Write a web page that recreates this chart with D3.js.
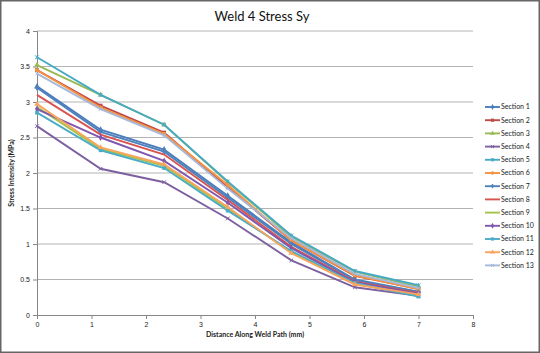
<!DOCTYPE html>
<html>
<head>
<meta charset="utf-8">
<script src="https://cdn.jsdelivr.net/npm/d3@7"></script>
<style>
  body { margin: 0; background: #fff; }
  svg { display: block; }
</style>
</head>
<body>
<script>
// distance along weld path (mm)
const distances = [0, 1.167, 2.333, 3.5, 4.667, 5.833, 7]

const sectionNames = ["Section 1", "Section 2", "Section 3", "Section 4", "Section 5", "Section 6", "Section 7",
    "Section 8", "Section 9", "Section 10", "Section 11", "Section 12", "Section 13"]

// stress intensity per section
const section1 = [3.22, 2.61, 2.33, 1.68, 1.02, 0.50, 0.33]
const section2 = [3.45, 2.95, 2.57, 1.80, 1.05, 0.55, 0.37]
const section3 = [3.52, 3.10, 2.68, 1.87, 1.10, 0.61, 0.40]
const section4 = [2.66, 2.06, 1.87, 1.36, 0.77, 0.39, 0.27]
const section5 = [3.63, 3.10, 2.68, 1.88, 1.12, 0.62, 0.42]
const section6 = [3.45, 2.92, 2.55, 1.83, 1.05, 0.56, 0.36]
const section7 = [3.20, 2.58, 2.30, 1.65, 1.00, 0.49, 0.32]
const section8 = [3.10, 2.54, 2.26, 1.62, 0.96, 0.47, 0.31]
const section9 = [2.93, 2.34, 2.10, 1.50, 0.88, 0.44, 0.28]
const section10 = [2.90, 2.50, 2.17, 1.58, 0.94, 0.46, 0.30]
const section11 = [2.85, 2.32, 2.07, 1.47, 0.90, 0.45, 0.26]
const section12 = [2.97, 2.36, 2.12, 1.52, 0.87, 0.43, 0.29]
const section13 = [3.40, 2.90, 2.53, 1.78, 1.08, 0.58, 0.38]

const allSections = [section1, section2, section3, section4, section5, section6, section7,
    section8, section9, section10, section11, section12, section13]

const xTicks = [0, 1, 2, 3, 4, 5, 6, 7, 8]
const yTicks = [0, 0.5, 1, 1.5, 2, 2.5, 3, 3.5, 4]

const colors = ["#4A7EBB", "#BE4B48", "#98B954", "#7D60A0", "#46AAC5", "#F69240", "#4F81BD",
    "#D9534F", "#A5C249", "#7E57B0", "#4BACC6", "#F9A45C", "#A5B9DA"]
const markers = ["diamond", "square", "triangle", "x", "star", "circle", "plus",
    "none", "none", "diamond", "square", "triangle", "x"]

const width = 540
const height = 353
const margin = ({top: 31, right: 67, bottom: 38, left: 37})

const svg = d3.select("body").append("svg")
    .attr("width", width)
    .attr("height", height)
    .attr("font-family", "Lato, 'Open Sans', sans-serif")

svg.append("rect")
    .attr("x", 0.75).attr("y", 0.75)
    .attr("width", width - 1.5).attr("height", height - 1.5)
    .attr("fill", "#fff")
    .attr("stroke", "#666")
    .attr("stroke-width", 1.5)

const x = d3.scaleLinear()
    .domain([0, 8])
    .range([margin.left, width - margin.right])

const y = d3.scaleLinear()
    .domain([0, 4])
    .range([height - margin.bottom, margin.top])

// gridlines
svg.append("g")
    .selectAll("line")
    .data(yTicks.filter(d => d > 0))
    .join("line")
    .attr("x1", x(0)).attr("x2", x(8))
    .attr("y1", d => y(d)).attr("y2", d => y(d))
    .attr("stroke", "#b3b3b3")
    .attr("stroke-width", 1)

const yAxis = svg.append("g")
    .attr("transform", `translate(${x(0)},0)`)
    .call(d3.axisLeft(y).tickValues(yTicks).tickSize(4).tickFormat(d3.format("")))
const xAxis = svg.append("g")
    .attr("transform", `translate(0,${y(0)})`)
    .call(d3.axisBottom(x).tickValues(xTicks).tickSize(4).tickFormat(d3.format("")))

for (const ax of [yAxis, xAxis]) {
    ax.select(".domain").attr("stroke", "#868686")
    ax.selectAll(".tick line").attr("stroke", "#868686")
    ax.selectAll(".tick text")
        .attr("font-size", 7)
        .attr("fill", "#222")
}
yAxis.selectAll(".tick text").attr("x", -7)
xAxis.selectAll(".tick text").attr("y", 7)

// series
const line = d3.line()
    .x((d, i) => x(distances[i]))
    .y(d => y(d))

const symbolFor = {
    diamond: d3.symbolDiamond,
    square: d3.symbolSquare,
    triangle: d3.symbolTriangle,
    circle: d3.symbolCircle,
    plus: d3.symbolCross
}

function drawMarker(g, kind, color, cx, cy, size) {
    if (kind === "none") return
    if (kind === "x" || kind === "star") {
        const s = Math.sqrt(size) / 2
        let p = `M${cx - s},${cy - s}L${cx + s},${cy + s}M${cx - s},${cy + s}L${cx + s},${cy - s}`
        if (kind === "star") p += `M${cx},${cy - s}L${cx},${cy + s}`
        g.append("path").attr("d", p).attr("stroke", color).attr("stroke-width", 1).attr("fill", "none")
        return
    }
    g.append("path")
        .attr("d", d3.symbol().type(symbolFor[kind]).size(size)())
        .attr("transform", `translate(${cx},${cy})`)
        .attr("fill", color)
}

allSections.forEach((vals, k) => {
    const g = svg.append("g")
    g.append("path")
        .datum(vals)
        .attr("d", line)
        .attr("fill", "none")
        .attr("stroke", colors[k])
        .attr("stroke-width", 1.9)
    vals.forEach((v, i) => drawMarker(g, markers[k], colors[k], x(distances[i]), y(v), 14))
})

// title and axis titles
svg.append("text")
    .attr("x", 262).attr("y", 21)
    .attr("text-anchor", "middle")
    .attr("font-size", 13)
    .attr("fill", "#111")
    .text("Weld 4 Stress Sy")

svg.append("text")
    .attr("transform", `translate(14,${y(2)}) rotate(-90)`)
    .attr("text-anchor", "middle")
    .attr("font-size", 7)
    .attr("font-weight", "bold")
    .attr("fill", "#222")
    .text("Stress Intensity (MPa)")

svg.append("text")
    .attr("x", x(4)).attr("y", 337)
    .attr("text-anchor", "middle")
    .attr("font-size", 7)
    .attr("font-weight", "bold")
    .attr("fill", "#222")
    .text("Distance Along Weld Path (mm)")

// legend
const legend = svg.append("g")
sectionNames.forEach((name, k) => {
    const ly = 107 + k * 13.2
    const lg = legend.append("g")
    lg.append("line")
        .attr("x1", 485).attr("x2", 500)
        .attr("y1", ly).attr("y2", ly)
        .attr("stroke", colors[k])
        .attr("stroke-width", 1.9)
    drawMarker(lg, markers[k], colors[k], 492.5, ly, 10)
    lg.append("text")
        .attr("x", 501).attr("y", ly)
        .attr("dy", "0.35em")
        .attr("font-size", 7)
        .attr("fill", "#222")
        .text(name)
})
</script>
</body>
</html>
